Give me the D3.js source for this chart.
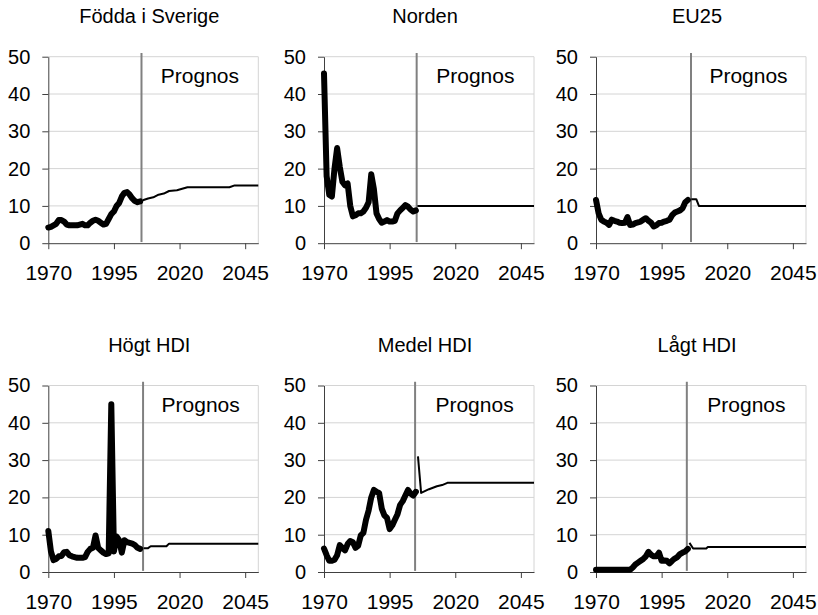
<!DOCTYPE html>
<html>
<head>
<meta charset="utf-8">
<script src="https://cdn.jsdelivr.net/npm/d3@7/dist/d3.min.js"></script>
<style>
  body { margin: 0; background: #fff; }
  svg { display: block; font-family: "Liberation Sans", Arial, sans-serif; }
</style>
</head>
<body>
<svg id="chart" width="818" height="615"></svg>
<script>
// Observed years
const years = [1970, 1971, 1972, 1973, 1974, 1975, 1976, 1977, 1978, 1979,
               1980, 1981, 1982, 1983, 1984, 1985, 1986, 1987, 1988, 1989,
               1990, 1991, 1992, 1993, 1994, 1995, 1996, 1997, 1998, 1999,
               2000, 2001, 2002, 2003, 2004, 2005];

const titles = ["Födda i Sverige", "Norden", "EU25", "Högt HDI", "Medel HDI", "Lågt HDI"];

// Observed values per group, one value per year above
const histSverige = [4.2, 4.4, 4.8, 5.2, 6.2, 6.2, 5.8, 5.0, 4.8, 4.8,
                     4.8, 4.8, 5.0, 5.2, 4.8, 4.8, 5.5, 6.0, 6.3, 6.0,
                     5.5, 5.0, 5.2, 6.5, 7.8, 8.5, 10.0, 10.8, 12.5, 13.5,
                     13.7, 13.0, 12.0, 11.3, 11.0, 11.2];
const histNorden = [45.5, 18.0, 13.0, 12.5, 20.0, 25.5, 20.5, 16.5, 15.5, 16.0,
                    10.0, 7.2, 7.5, 8.0, 8.0, 8.5, 9.5, 11.0, 18.5, 14.5,
                    8.0, 6.5, 5.5, 5.8, 6.2, 5.8, 5.8, 6.0, 8.0, 8.8,
                    9.5, 10.2, 9.8, 9.0, 8.5, 8.8];
const histEU25 = [11.6, 8.0, 6.3, 5.8, 5.5, 4.9, 6.3, 6.0, 5.8, 5.5,
                  5.4, 5.5, 7.0, 4.9, 5.0, 5.4, 5.6, 5.8, 6.3, 6.7,
                  6.0, 5.5, 4.5, 4.8, 5.4, 5.5, 5.8, 6.0, 6.3, 7.5,
                  8.2, 8.5, 8.8, 9.4, 11.0, 11.6];
const histHogt = [11.0, 5.5, 3.2, 3.5, 4.2, 4.3, 5.3, 5.4, 4.5, 4.2,
                  4.0, 3.8, 3.8, 3.8, 4.0, 5.4, 6.2, 6.5, 9.8, 6.5,
                  5.8, 5.2, 4.8, 5.0, 45.0, 5.5, 9.5, 8.5, 5.2, 8.5,
                  8.0, 7.8, 7.6, 7.2, 6.5, 6.2];
const histMedel = [6.3, 4.5, 3.0, 3.0, 3.3, 4.5, 7.2, 6.5, 5.8, 7.5,
                   8.3, 8.0, 6.5, 7.0, 9.8, 10.5, 14.0, 16.5, 20.0, 22.0,
                   21.5, 21.2, 17.0, 15.2, 14.5, 11.5, 12.5, 14.0, 15.5, 18.0,
                   19.0, 20.5, 22.0, 21.0, 20.5, 21.5];
const histLagt = [0.6, 0.6, 0.6, 0.6, 0.6, 0.6, 0.6, 0.6, 0.6, 0.6,
                  0.6, 0.6, 0.6, 0.6, 1.2, 2.0, 2.5, 3.0, 3.5, 4.2,
                  5.4, 4.6, 4.2, 4.2, 5.2, 3.0, 3.1, 3.0, 2.3, 3.0,
                  3.6, 4.0, 4.8, 5.2, 5.5, 6.2];

// Forecast paths as [year, value] points
const progSverige = [[2006, 11.5], [2008, 12.0], [2010, 12.3], [2012, 13.0], [2014, 13.3],
                     [2016, 14.0], [2019, 14.2], [2021, 14.6], [2023, 15.0], [2039, 15.0],
                     [2041, 15.5], [2050, 15.5]];
const progNorden = [[2005.6, 10.0], [2050, 10.0]];
const progEU25 = [[2006.3, 11.8], [2008.2, 11.8], [2009.2, 10.0], [2050, 10.0]];
const progHogt = [[2006.3, 6.4], [2008, 6.4], [2009, 6.9], [2015, 6.9], [2016, 7.6], [2050, 7.6]];
const progMedel = [[2005.8, 31.0], [2007, 21.2], [2010, 22.2], [2013, 23.0], [2015, 23.3],
                   [2017, 23.9], [2050, 23.9]];
const progLagt = [[2005.6, 7.8], [2007, 6.3], [2012, 6.3], [2012.6, 6.7], [2050, 6.7]];

// Year where the forecast starts (marker line)
const splitYears = [2005.5, 2005.3, 2006.2, 2006.1, 2004.7, 2004.6];

const yTicks = [0, 10, 20, 30, 40, 50];
const xTicks = [1970, 1995, 2020, 2045];
const forecastLabel = "Prognos";

const histSeries = [histSverige, histNorden, histEU25, histHogt, histMedel, histLagt];
const progSeries = [progSverige, progNorden, progEU25, progHogt, progMedel, progLagt];

// ---- layout ----
const svg = d3.select("#chart");
const panelLeft = [48.3, 324, 596];
const panelTop = [56.7, 385.5];
const W = 210, H = 186.5;

const x = d3.scaleLinear().domain([1970, 2050]).range([0, W]);
const y = d3.scaleLinear().domain([0, 50]).range([H, 0]);

const line = d3.line().x(d => x(d[0])).y(d => y(d[1]));

titles.forEach((title, i) => {
  const col = i % 3, row = Math.floor(i / 3);
  const g = svg.append("g").attr("transform", `translate(${panelLeft[col]},${panelTop[row]})`);

  // gridlines
  g.append("g").selectAll("line").data(yTicks.filter(t => t > 0)).join("line")
    .attr("x1", 0).attr("x2", W)
    .attr("y1", d => y(d)).attr("y2", d => y(d))
    .attr("stroke", "#d4d4d4").attr("stroke-width", 1);
  // right border of plot area
  g.append("line").attr("x1", W).attr("x2", W).attr("y1", y(50)).attr("y2", y(0))
    .attr("stroke", "#d4d4d4").attr("stroke-width", 1);

  // axes
  const ya = g.append("g").call(d3.axisLeft(y).tickValues(yTicks).tickSize(6).tickSizeOuter(0).tickPadding(12));
  const xa = g.append("g").attr("transform", `translate(0,${H})`)
    .call(d3.axisBottom(x).tickValues(xTicks).tickSize(6).tickSizeOuter(0).tickPadding(16).tickFormat(d3.format("d")));
  [ya, xa].forEach(a => {
    a.select(".domain").attr("stroke", "#404040");
    a.selectAll(".tick line").attr("stroke", "#404040");
    a.selectAll("text").attr("fill", "#000").attr("font-family", "Liberation Sans, Arial, sans-serif");
  });
  ya.selectAll("text").attr("font-size", 20);
  xa.selectAll("text").attr("font-size", 21);

  // forecast marker
  const sx = x(splitYears[i]);
  g.append("line").attr("x1", sx).attr("x2", sx).attr("y1", y(51)).attr("y2", y(0.3))
    .attr("stroke", "#808080").attr("stroke-width", 2);

  g.append("text").attr("x", (sx + W) / 2).attr("y", 26.3)
    .attr("text-anchor", "middle").attr("font-size", 21).attr("fill", "#000")
    .text(forecastLabel);

  // title
  g.append("text").attr("x", W / 2 - 4).attr("y", -33.7)
    .attr("text-anchor", "middle").attr("font-size", 20).attr("fill", "#000")
    .text(title);

  // observed series
  const hist = years.map((yr, k) => [yr, histSeries[i][k]]);
  g.append("path").attr("d", line(hist))
    .attr("fill", "none").attr("stroke", "#000").attr("stroke-width", 6)
    .attr("stroke-linejoin", "round").attr("stroke-linecap", "round");

  // forecast series
  g.append("path").attr("d", line(progSeries[i]))
    .attr("fill", "none").attr("stroke", "#000").attr("stroke-width", 2)
    .attr("stroke-linejoin", "round");
});
</script>
</body>
</html>
